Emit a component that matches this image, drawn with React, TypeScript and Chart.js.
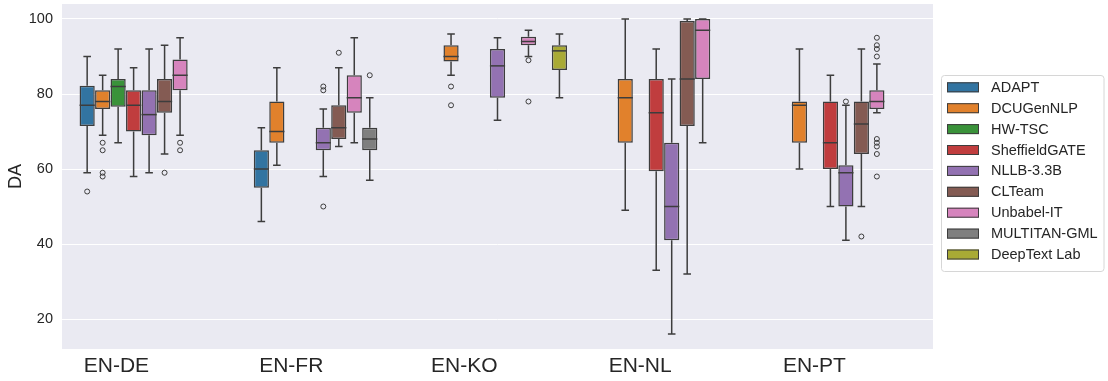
import React, { useEffect, useRef } from 'react';
import { Chart, registerables } from 'chart.js';

Chart.register(...registerables);

const categories = ['EN-DE', 'EN-FR', 'EN-KO', 'EN-NL', 'EN-PT'];
const systems = ['ADAPT', 'DCUGenNLP', 'HW-TSC', 'SheffieldGATE', 'NLLB-3.3B', 'CLTeam', 'Unbabel-IT', 'MULTITAN-GML', 'DeepText Lab'];
const colors = ['#3274A1', '#E1812C', '#3A923A', '#C03D3E', '#9372B2', '#845B53', '#D684BD', '#7F7F7F', '#A9AA35'];
const yTicks = [20, 40, 60, 80, 100];

// [lower whisker, Q1, median, Q3, upper whisker] per language pair (null = not submitted)
const ADAPT = [[59, 71.5, 77, 82.2, 90], [46, 55, 60, 65, 71], null, null, null];
const DCUGenNLP = [[69, 76, 78, 81, 85], [61, 67, 70, 78, 87], [85, 88.7, 90, 93, 96], [49, 67, 79, 84, 100], [60, 67, 77, 78, 92]];
const HW_TSC = [[67, 76.6, 82, 84, 92], null, null, null, null];
const SheffieldGATE = [[58, 70, 77, 81, 87], null, null, [33, 59.4, 75, 84, 92], [50, 60, 67, 78, 85]];
const NLLB = [[59, 69, 74.5, 81, 92], [58, 65, 67, 71, 76], [73, 79, 87.5, 92, 95], [16, 41, 50, 67, 84], [41, 50, 59, 61, 77]];
const CLTeam = [[64, 75, 78, 84, 93], [66, 68, 71, 77, 87], null, [32, 71.5, 84, 99.5, 100], [50, 64, 72, 78, 92]];
const UnbabelIT = [[69, 81, 85, 89.2, 95], [67, 75, 79, 85, 95], [90, 93, 94, 95.3, 97], [67, 84, 97, 100, 100], [75, 76, 78, 81, 88]];
const MULTITAN = [null, [57, 65, 68, 71, 79], null, null, null];
const DeepText = [null, null, [79, 86.4, 91.5, 93, 96], null, null];

// outliers per language pair
const ADAPT_out = [[54], [], [], [], []];
const DCUGenNLP_out = [[67, 65, 59, 58], [], [82, 77], [], []];
const HW_TSC_out = [[], [], [], [], []];
const SheffieldGATE_out = [[], [], [], [], []];
const NLLB_out = [[], [82, 81, 50], [], [], [78]];
const CLTeam_out = [[59], [91], [], [], [42]];
const UnbabelIT_out = [[67, 65], [], [89, 78], [], [95, 93, 92, 90, 68, 67, 66, 64, 58]];
const MULTITAN_out = [[], [85], [], [], []];
const DeepText_out = [[], [], [], [], []];

const stats = [ADAPT, DCUGenNLP, HW_TSC, SheffieldGATE, NLLB, CLTeam, UnbabelIT, MULTITAN, DeepText];
const outliers = [ADAPT_out, DCUGenNLP_out, HW_TSC_out, SheffieldGATE_out, NLLB_out, CLTeam_out, UnbabelIT_out, MULTITAN_out, DeepText_out];

const LINE = '#3d3d3d';
const FONT = "'Liberation Sans', Arial, sans-serif";

const plotBg = {
  id: 'plotBg',
  beforeDraw(chart: any) {
    const { ctx, chartArea } = chart;
    ctx.save();
    ctx.fillStyle = '#EAEAF2';
    ctx.fillRect(chartArea.left, chartArea.top, chartArea.right - chartArea.left, chartArea.bottom - chartArea.top);
    ctx.restore();
  },
};

const boxParts = {
  id: 'boxParts',
  beforeDatasetsDraw(chart: any) {
    const { ctx } = chart;
    const y = chart.scales.y;
    ctx.save();
    ctx.strokeStyle = LINE;
    ctx.lineWidth = 1.5;
    chart.data.datasets.forEach((ds: any, i: number) => {
      const meta = chart.getDatasetMeta(i);
      stats[i].forEach((s: any, j: number) => {
        if (!s) return;
        const el = meta.data[j];
        const x = el.x;
        const w = el.width;
        const [lo, q1, , q3, hi] = s;
        ctx.beginPath();
        ctx.moveTo(x, y.getPixelForValue(q3));
        ctx.lineTo(x, y.getPixelForValue(hi));
        ctx.moveTo(x - w / 4, y.getPixelForValue(hi));
        ctx.lineTo(x + w / 4, y.getPixelForValue(hi));
        ctx.moveTo(x, y.getPixelForValue(q1));
        ctx.lineTo(x, y.getPixelForValue(lo));
        ctx.moveTo(x - w / 4, y.getPixelForValue(lo));
        ctx.lineTo(x + w / 4, y.getPixelForValue(lo));
        ctx.stroke();
      });
    });
    ctx.restore();
  },
  afterDatasetsDraw(chart: any) {
    const { ctx } = chart;
    const y = chart.scales.y;
    ctx.save();
    chart.data.datasets.forEach((ds: any, i: number) => {
      const meta = chart.getDatasetMeta(i);
      stats[i].forEach((s: any, j: number) => {
        const el = meta.data[j];
        if (s) {
          const x = el.x;
          const w = el.width;
          ctx.strokeStyle = LINE;
          ctx.lineWidth = 1.5;
          ctx.beginPath();
          ctx.moveTo(x - w / 2, y.getPixelForValue(s[2]));
          ctx.lineTo(x + w / 2, y.getPixelForValue(s[2]));
          ctx.stroke();
        }
        const outs = outliers[i][j];
        if (outs && outs.length && el) {
          ctx.strokeStyle = LINE;
          ctx.lineWidth = 1;
          outs.forEach((v: number) => {
            ctx.beginPath();
            ctx.arc(el.x, y.getPixelForValue(v), 2.5, 0, Math.PI * 2);
            ctx.stroke();
          });
        }
      });
    });
    ctx.restore();
  },
};

const legendBox = {
  id: 'legendBox',
  afterDraw(chart: any) {
    const { ctx } = chart;
    const left = 941.5, top = 75.5, right = 1104, bottom = 271.5, r = 3;
    ctx.save();
    ctx.beginPath();
    ctx.moveTo(left + r, top);
    ctx.lineTo(right - r, top);
    ctx.arcTo(right, top, right, top + r, r);
    ctx.lineTo(right, bottom - r);
    ctx.arcTo(right, bottom, right - r, bottom, r);
    ctx.lineTo(left + r, bottom);
    ctx.arcTo(left, bottom, left, bottom - r, r);
    ctx.lineTo(left, top + r);
    ctx.arcTo(left, top, left + r, top, r);
    ctx.closePath();
    ctx.fillStyle = 'rgba(255,255,255,0.85)';
    ctx.fill();
    ctx.strokeStyle = '#d6d6d6';
    ctx.lineWidth = 1;
    ctx.stroke();
    ctx.font = `14.5px ${FONT}`;
    ctx.textBaseline = 'middle';
    ctx.textAlign = 'left';
    chart.data.datasets.forEach((ds: any, i: number) => {
      const cy = 87.3 + i * 20.9;
      ctx.fillStyle = ds.backgroundColor;
      ctx.fillRect(947, cy - 5, 32, 10);
      ctx.strokeStyle = LINE;
      ctx.lineWidth = 1;
      ctx.strokeRect(947.5, cy - 4.5, 31, 9);
      ctx.fillStyle = '#262626';
      ctx.fillText(ds.label, 991, cy + 0.5);
    });
    ctx.restore();
  },
};

export default function App() {
  const ref = useRef<HTMLCanvasElement | null>(null);
  useEffect(() => {
    if (!ref.current) return;
    const datasets = systems.map((name, i) => ({
      label: name,
      data: stats[i].map((s: any) => (s ? [s[1], s[3]] : null)),
      backgroundColor: colors[i],
      borderColor: LINE,
      borderWidth: 1.5,
      borderSkipped: false,
      categoryPercentage: 0.8,
      barPercentage: 0.98,
    }));
    const chart = new Chart(ref.current, {
      type: 'bar',
      data: { labels: categories, datasets: datasets as any },
      options: {
        animation: false,
        responsive: false,
        devicePixelRatio: 1,
        layout: { padding: { left: 0, right: 175, top: 4, bottom: 0 } },
        plugins: { legend: { display: false }, tooltip: { enabled: false } },
        scales: {
          x: {
            grid: { display: false, drawTicks: false },
            border: { display: false },
            ticks: { align: 'end', font: { family: FONT, size: 21 }, color: '#262626', padding: 5, maxRotation: 0 },
            afterFit(scale: any) {
              scale.height = 32;
              scale.paddingLeft = 0;
              scale.paddingRight = 0;
            },
          },
          y: {
            min: 12,
            max: 104,
            grid: { color: '#ffffff', lineWidth: 1, drawTicks: false },
            border: { display: false },
            ticks: { font: { family: FONT, size: 14.5 }, color: '#262626', padding: 9 },
            afterBuildTicks(scale: any) { scale.ticks = yTicks.map((v) => ({ value: v })); },
            title: { display: true, text: 'DA', font: { family: FONT, size: 18 }, color: '#262626', padding: { top: 5, bottom: 0 } },
            afterFit(scale: any) {
              scale.width = 62;
              scale.paddingTop = 0;
              scale.paddingBottom = 0;
            },
          },
        },
      },
      plugins: [plotBg, boxParts, legendBox],
    });
    return () => chart.destroy();
  }, []);
  return (
    <div style={{ position: 'fixed', left: 0, top: 0, width: 1108, height: 381, background: '#fff' }}>
      <canvas ref={ref} width={1108} height={381} style={{ display: 'block' }} />
    </div>
  );
}
